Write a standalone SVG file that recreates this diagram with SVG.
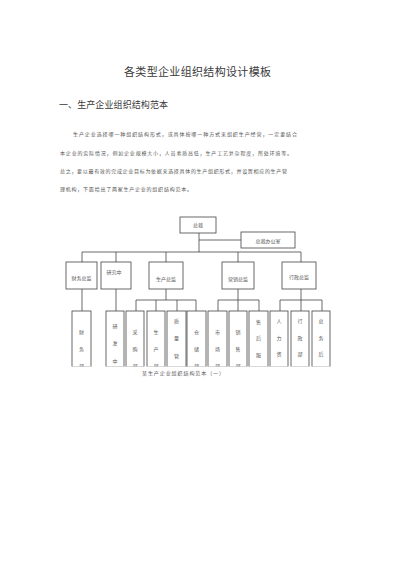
<svg xmlns="http://www.w3.org/2000/svg" width="400" height="566" viewBox="0 0 400 566">
<style>
text{font-family:"Noto Sans CJK SC","Noto Sans",sans-serif;fill:#444}
.t{font-size:11px;fill:#3a3a3a}
.h{font-size:9px;fill:#3a3a3a}
.p{font-size:5px;fill:#555}
.b{fill:#fff;stroke:#444;stroke-width:0.8}
.l{font-size:5px;fill:#555;text-anchor:middle}
.c line{stroke:#444;stroke-width:0.8}
</style>
<defs><clipPath id="cl" clipPathUnits="userSpaceOnUse"><rect x="0" y="0" width="400" height="366.5"/></clipPath></defs>
<rect width="400" height="566" fill="#fff"/>
<text class="t" x="124" y="76" textLength="147" lengthAdjust="spacing">各类型企业组织结构设计模板</text>
<text class="h" x="59" y="108" textLength="109" lengthAdjust="spacing">一、生产企业组织结构范本</text>
<text class="p" x="73" y="135.5" textLength="224" lengthAdjust="spacing">生产企业选择哪一种组织结构形式，或具体按哪一种方式来组织生产经营，一定要结合</text>
<text class="p" x="60" y="154.5" textLength="232" lengthAdjust="spacing">本企业的实际情况，例如企业规模大小，人员素质高低，生产工艺复杂程度，所处环境等。</text>
<text class="p" x="60" y="172.5" textLength="227" lengthAdjust="spacing">总之，要以最有效的完成企业目标为依据来选择具体的生产组织形式，并设置相应的生产管</text>
<text class="p" x="60" y="190.5" textLength="132" lengthAdjust="spacing">理机构，下面给出了两家生产企业的组织结构范本。</text>
<g class="c" id="connectors">
<line x1="199" y1="233" x2="199" y2="252"/>
<line x1="199" y1="240" x2="241" y2="240"/>
<line x1="82" y1="252" x2="301" y2="252"/>
<line x1="82" y1="252" x2="82" y2="262"/>
<line x1="116" y1="252" x2="116" y2="262"/>
<line x1="166" y1="252" x2="166" y2="262"/>
<line x1="238" y1="252" x2="238" y2="262"/>
<line x1="301" y1="252" x2="301" y2="262"/>
<line x1="82" y1="289" x2="82" y2="311"/>
<line x1="116" y1="289" x2="116" y2="311"/>
<line x1="166" y1="289" x2="166" y2="300"/>
<line x1="238" y1="289" x2="238" y2="300"/>
<line x1="301" y1="289" x2="301" y2="300"/>
<line x1="136" y1="300" x2="196" y2="300"/>
<line x1="218" y1="300" x2="259" y2="300"/>
<line x1="280" y1="300" x2="322" y2="300"/>
<line x1="136" y1="300" x2="136" y2="311"/>
<line x1="156" y1="300" x2="156" y2="311"/>
<line x1="177" y1="300" x2="177" y2="311"/>
<line x1="196" y1="300" x2="196" y2="311"/>
<line x1="218" y1="300" x2="218" y2="311"/>
<line x1="238" y1="300" x2="238" y2="311"/>
<line x1="259" y1="300" x2="259" y2="311"/>
<line x1="280" y1="300" x2="280" y2="311"/>
<line x1="301" y1="300" x2="301" y2="311"/>
<line x1="322" y1="300" x2="322" y2="311"/>
</g>
<g id="n-ceo"><rect class="b" x="180" y="217" width="36" height="16"/><text class="l" x="198" y="227">总裁</text></g>
<g id="n-office"><rect class="b" x="241" y="232" width="54" height="16"/><text class="l" x="268" y="243">总裁办公室</text></g>
<g id="n-fin"><rect class="b" x="66" y="262" width="31" height="27"/><text class="l" x="81.5" y="280">财务总监</text></g>
<g id="n-rd"><rect class="b" x="101" y="262" width="30" height="27"/><text class="l" x="114" y="274">研究中</text></g>
<g id="n-prod"><rect class="b" x="149" y="262" width="34" height="27"/><text class="l" x="166" y="281">生产总监</text></g>
<g id="n-mkt"><rect class="b" x="222" y="262" width="32" height="27"/><text class="l" x="238" y="281">营销总监</text></g>
<g id="n-adm"><rect class="b" x="282" y="262" width="34" height="27"/><text class="l" x="299" y="279">行政总监</text></g>
<g clip-path="url(#cl)">
<g id="n-fin3"><rect class="b" x="72" y="311" width="19" height="56"/><text class="l" x="81.5" y="334">财</text><text class="l" x="81.5" y="351">务</text><text class="l" x="81.5" y="367.5">部</text></g>
<g id="n-rd3"><rect class="b" x="106" y="311" width="18" height="56"/><text class="l" x="115" y="328">研</text><text class="l" x="115" y="345">发</text><text class="l" x="115" y="363">中</text></g>
<g id="n-pur"><rect class="b" x="126" y="311" width="18" height="56"/><text class="l" x="135" y="334">采</text><text class="l" x="135" y="351">购</text><text class="l" x="135" y="367.5">部</text></g>
<g id="n-pro"><rect class="b" x="147" y="311" width="18" height="56"/><text class="l" x="156" y="334">生</text><text class="l" x="156" y="351">产</text><text class="l" x="156" y="367.5">部</text></g>
<g id="n-qa"><rect class="b" x="167" y="311" width="19" height="56"/><text class="l" x="176.5" y="323">质</text><text class="l" x="176.5" y="340">量</text><text class="l" x="176.5" y="358">管</text></g>
<g id="n-wh"><rect class="b" x="187" y="311" width="19" height="56"/><text class="l" x="196.5" y="334">仓</text><text class="l" x="196.5" y="351">储</text><text class="l" x="196.5" y="367.5">部</text></g>
<g id="n-mk"><rect class="b" x="208" y="311" width="19" height="56"/><text class="l" x="217.5" y="334">市</text><text class="l" x="217.5" y="351">场</text><text class="l" x="217.5" y="367.5">部</text></g>
<g id="n-sal"><rect class="b" x="229" y="311" width="18" height="56"/><text class="l" x="238" y="334">销</text><text class="l" x="238" y="351">售</text><text class="l" x="238" y="367.5">部</text></g>
<g id="n-as"><rect class="b" x="249" y="311" width="19" height="56"/><text class="l" x="258.5" y="324">售</text><text class="l" x="258.5" y="340">后</text><text class="l" x="258.5" y="357">服</text></g>
<g id="n-hr"><rect class="b" x="270" y="311" width="18" height="56"/><text class="l" x="279" y="323">人</text><text class="l" x="279" y="340">力</text><text class="l" x="279" y="356">资</text></g>
<g id="n-ad"><rect class="b" x="291" y="311" width="18" height="56"/><text class="l" x="300" y="323">行</text><text class="l" x="300" y="340">政</text><text class="l" x="300" y="356">部</text></g>
<g id="n-ga"><rect class="b" x="312" y="311" width="18" height="56"/><text class="l" x="321" y="323">总</text><text class="l" x="321" y="340">务</text><text class="l" x="321" y="356">后</text></g>
</g>
<text class="p" x="142" y="374.5" textLength="82" lengthAdjust="spacing">某生产企业组织结构范本（一）</text>
</svg>
